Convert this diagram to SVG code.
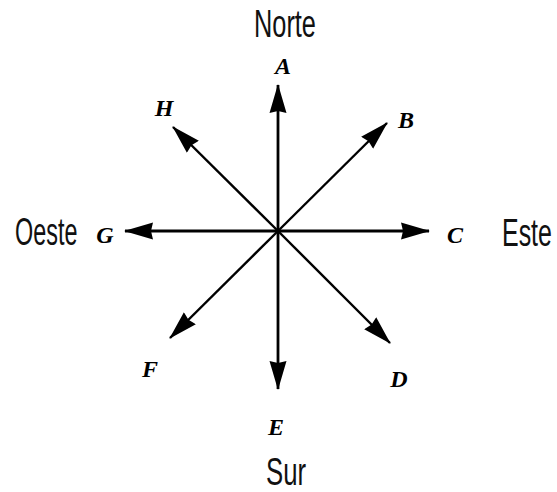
<svg xmlns="http://www.w3.org/2000/svg" width="557" height="492" viewBox="0 0 557 492">
  <style>
    .dir { font-family: "Liberation Sans", Arial, sans-serif; font-size: 39px; fill: #111; text-anchor: start; }
    .lbl { font-family: "Liberation Serif", "Times New Roman", serif; font-style: italic; font-weight: bold; font-size: 24px; fill: #000; text-anchor: middle; }
    .arr { stroke: #000; stroke-width: 2.8; fill: none; marker-end: url(#head); }
    .diag { stroke-width: 2.4; }
  </style>
  <defs>
    <marker id="head" viewBox="0 0 29 18" refX="28" refY="9" markerWidth="29" markerHeight="18" markerUnits="userSpaceOnUse" orient="auto">
      <path d="M0,0.5 L29,9 L0,17.5 L2,9 z" fill="#000"/>
    </marker>
  </defs>
  <rect width="557" height="492" fill="#fff"/>
  <g id="connectors">
    <line class="arr" x1="278" y1="231" x2="278" y2="85"/>
    <line class="arr" x1="278" y1="231" x2="278" y2="389"/>
    <line class="arr" x1="278" y1="231" x2="429" y2="231"/>
    <line class="arr" x1="278" y1="231" x2="125" y2="231"/>
    <line class="arr diag" x1="278" y1="231" x2="387" y2="123"/>
    <line class="arr diag" x1="278" y1="231" x2="173" y2="127"/>
    <line class="arr diag" x1="278" y1="231" x2="170" y2="338"/>
    <line class="arr diag" x1="278" y1="231" x2="390" y2="343"/>
  </g>
  <g id="norte"><text class="dir" transform="translate(254,37) scale(0.65,1)">Norte</text></g>
  <g id="sur"><text class="dir" transform="translate(266,485) scale(0.66,1)">Sur</text></g>
  <g id="este"><text class="dir" transform="translate(502,246) scale(0.64,1)">Este</text></g>
  <g id="oeste"><text class="dir" transform="translate(15,245) scale(0.6,1)">Oeste</text></g>
  <g id="A"><text class="lbl" x="283" y="74">A</text></g>
  <g id="B"><text class="lbl" x="406" y="128">B</text></g>
  <g id="C"><text class="lbl" x="455" y="243">C</text></g>
  <g id="D"><text class="lbl" x="399" y="387">D</text></g>
  <g id="E"><text class="lbl" x="276" y="435">E</text></g>
  <g id="F"><text class="lbl" x="150" y="377">F</text></g>
  <g id="G"><text class="lbl" x="105" y="243">G</text></g>
  <g id="H"><text class="lbl" x="164" y="116">H</text></g>
</svg>
